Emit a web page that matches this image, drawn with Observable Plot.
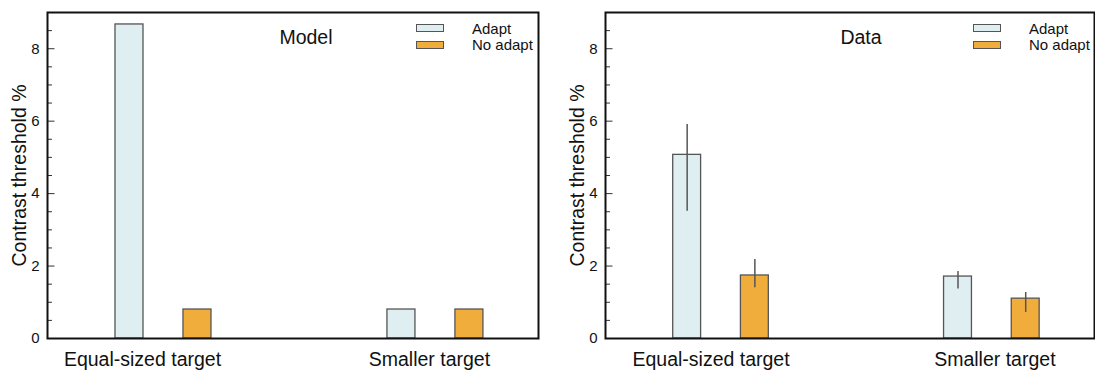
<!DOCTYPE html>
<html>
<head>
<meta charset="utf-8">
<script src="https://cdn.jsdelivr.net/npm/d3@7"></script>
<script src="https://cdn.jsdelivr.net/npm/@observablehq/plot@0.6"></script>
<style>
  body { margin: 0; background: #fff; font-family: "Liberation Sans", Arial, Helvetica, sans-serif; }
  #wrap { display: flex; width: 1095px; height: 374px; overflow: hidden; }
  .panel { position: relative; }
  .legend { position: absolute; font-size: 15px; color: #111; }
  .item { display: flex; align-items: center; height: 16.5px; white-space: nowrap; }
  .sw { width: 28px; height: 8px; border: 1.2px solid #555; box-sizing: border-box; margin-right: 28px; }
</style>
</head>
<body>
<div id="wrap"></div>
<script>
// ---- data ----
const categories = ["Equal-sized target", "Smaller target"];
const series = ["Adapt", "No adapt"];
const yLabel = "Contrast threshold %";
const yMajorTicks = [0, 2, 4, 6, 8];

const modelAdapt = [8.67, 0.80];
const modelNoAdapt = [0.80, 0.80];

const dataAdapt = [5.07, 1.71];
const dataNoAdapt = [1.74, 1.10];
const dataAdaptLow = [3.51, 1.37];
const dataAdaptHigh = [5.91, 1.85];
const dataNoAdaptLow = [1.40, 0.72];
const dataNoAdaptHigh = [2.18, 1.27];

const colors = ["#dfeef1", "#f0ad3b"];
const font = '"Liberation Sans", Arial, Helvetica, sans-serif';
const xDomain = [-0.4265, 1.379];

function makePanel({title, adapt, noAdapt, low, high, width, marginLeft, marginRight, titleDx, labelDx, legendLeft}) {
  const rows = [];
  categories.forEach((c, i) => {
    series.forEach((s, j) => {
      const xc = i + (j - 0.5) * 0.25;
      const r = {category: c, series: s, xc, x1: xc - 0.0515, x2: xc + 0.0515,
                 value: j === 0 ? adapt[i] : noAdapt[i]};
      if (low) {
        r.lo = j === 0 ? low.adapt[i] : low.no[i];
        r.hi = j === 0 ? high.adapt[i] : high.no[i];
      }
      rows.push(r);
    });
  });
  // inward tick marks: lengths in pixels converted to x units
  const pxPerUnit = (width - marginLeft - marginRight) / (xDomain[1] - xDomain[0]);
  const minor = d3.range(0.5, 9, 0.5).filter(v => v % 2 !== 0);
  const marks = [
    Plot.rect(rows, {x1: "x1", x2: "x2", y1: 0, y2: "value", fill: "series", stroke: "#555", strokeWidth: 1.3}),
  ];
  if (low) marks.push(Plot.ruleX(rows, {x: "xc", y1: "lo", y2: "hi", stroke: "#555", strokeWidth: 1.5}));
  marks.push(
    Plot.ruleY(minor, {y: d => d, x1: xDomain[0], x2: xDomain[0] + 5 / pxPerUnit, stroke: "#333", strokeWidth: 1}),
    Plot.ruleY(yMajorTicks, {y: d => d, x1: xDomain[0], x2: xDomain[0] + 7.5 / pxPerUnit, stroke: "#333", strokeWidth: 1}),
    Plot.axisY({ticks: yMajorTicks, tickSize: 0, tickPadding: 8, fontSize: 15, label: null}),
    ...categories.map((c, i) =>
      Plot.axisX({ticks: [i], tickFormat: k => categories[k], tickSize: 0, tickPadding: 14, fontSize: 19.5, dx: labelDx[i], label: null})),
    Plot.text([yLabel], {text: d => d, frameAnchor: "left", textAnchor: "middle", lineAnchor: "middle", rotate: -90, dx: -28, fontSize: 19.5}),
    Plot.text([title], {text: d => d, frameAnchor: "top", lineAnchor: "middle", dx: titleDx, dy: 25, fontSize: 19.5}),
    Plot.frame({stroke: "#111", strokeWidth: 2})
  );
  const chart = Plot.plot({
    width, height: 374,
    marginLeft, marginRight, marginTop: 12, marginBottom: 36,
    x: {domain: xDomain, label: null},
    y: {domain: [0, 9], label: null},
    color: {domain: series, range: colors},
    style: {fontFamily: font, fontSize: "15px", color: "#111", background: "white", overflow: "visible"},
    marks
  });
  const div = document.createElement("div");
  div.className = "panel";
  div.style.width = width + "px";
  div.appendChild(chart);
  const legend = document.createElement("div");
  legend.className = "legend";
  legend.style.left = legendLeft + "px";
  legend.style.top = "20px";
  series.forEach((s, j) => {
    const item = document.createElement("div");
    item.className = "item";
    const sw = document.createElement("div");
    sw.className = "sw";
    sw.style.background = colors[j];
    const t = document.createElement("span");
    t.textContent = s;
    item.appendChild(sw);
    item.appendChild(t);
    legend.appendChild(item);
  });
  div.appendChild(legend);
  return div;
}

const wrap = document.getElementById("wrap");
wrap.appendChild(makePanel({
  title: "Model", adapt: modelAdapt, noAdapt: modelNoAdapt,
  width: 560, marginLeft: 47, marginRight: 22, titleDx: 13, labelDx: [-21, -6], legendLeft: 416
}));
wrap.appendChild(makePanel({
  title: "Data", adapt: dataAdapt, noAdapt: dataNoAdapt,
  low: {adapt: dataAdaptLow, no: dataNoAdaptLow},
  high: {adapt: dataAdaptHigh, no: dataNoAdaptHigh},
  width: 535, marginLeft: 45, marginRight: 1, titleDx: 11, labelDx: [-10, 3], legendLeft: 413
}));
</script>
</body>
</html>
